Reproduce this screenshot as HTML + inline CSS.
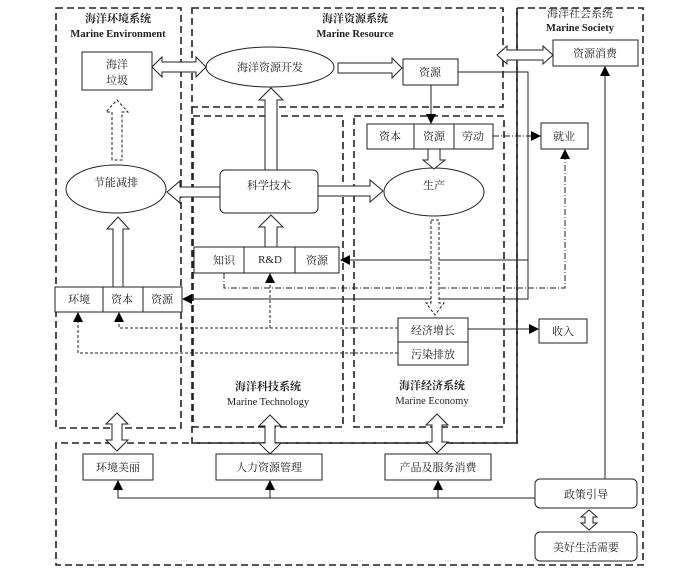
<!DOCTYPE html>
<html><head><meta charset="utf-8"><style>
html,body{margin:0;padding:0;background:#fff;}
svg{display:block;}
text{font-family:"Liberation Serif","Noto Serif CJK SC","Noto Sans CJK SC",serif;font-size:11px;fill:#222;text-anchor:middle;}
.b{font-weight:bold;}
</style></head><body>
<svg width="700" height="573" viewBox="0 0 700 573" xmlns="http://www.w3.org/2000/svg">
<defs>
<marker id="ah" markerWidth="10" markerHeight="10" refX="9" refY="5" orient="auto" markerUnits="userSpaceOnUse"><path d="M0,0 L10,5 L0,10 Z" fill="#000"/></marker>
</defs>
<g fill="none" stroke="#222" stroke-width="1.6" stroke-dasharray="7,4">
<rect x="56" y="8" width="125" height="420"/>
<rect x="192" y="8" width="311" height="99"/>
<rect x="193" y="116" width="150" height="311"/>
<rect x="354" y="116" width="150" height="311"/>
<path d="M517,8 L643,8 L643,565 L56,565 L56,443 L517,443 Z"/>
<path d="M192,107 L192,443 L517,443 L517,8"/>
</g>
<text x="118" y="22" class="b">海洋环境系统</text>
<text x="118" y="37" class="b" style="font-size:10.5px">Marine Environment</text>
<text x="355" y="22" class="b">海洋资源系统</text>
<text x="355" y="37" class="b" style="font-size:10.5px">Marine Resource</text>
<text x="580" y="17">海洋社会系统</text>
<text x="580" y="31" class="b" style="font-size:10.5px">Marine Society</text>
<text x="268" y="390" class="b">海洋科技系统</text>
<text x="268" y="405" style="font-size:10.5px">Marine Technology</text>
<text x="432" y="389" class="b">海洋经济系统</text>
<text x="432" y="404" style="font-size:10.5px">Marine Economy</text>

<g fill="#fff" stroke="#222" stroke-width="1">
<rect x="82" y="52" width="70" height="38"/>
<ellipse cx="270" cy="67" rx="64" ry="20"/>
<rect x="403" y="59" width="55" height="26"/>
<rect x="553" y="40" width="85" height="26"/>
<rect x="367" y="124" width="126" height="25"/>
<rect x="541" y="123" width="47" height="26"/>
<ellipse cx="434" cy="192" rx="50" ry="24"/>
<ellipse cx="116" cy="189" rx="50" ry="24"/>
<rect x="220" y="170" width="98" height="43" rx="5"/>
<rect x="194" y="247" width="145" height="26"/>
<rect x="55" y="287" width="127" height="25"/>
<rect x="398" y="318" width="70" height="24"/>
<rect x="398" y="342" width="70" height="23"/>
<rect x="539" y="319" width="48" height="24"/>
<rect x="83" y="454" width="70" height="26"/>
<rect x="216" y="454" width="106" height="26"/>
<rect x="385" y="454" width="106" height="26"/>
<rect x="535" y="479" width="102" height="29" rx="5"/>
<rect x="535" y="532" width="102" height="29" rx="5"/>
</g>
<g stroke="#222" stroke-width="1">
<line x1="414" y1="124" x2="414" y2="149"/><line x1="454" y1="124" x2="454" y2="149"/>
<line x1="244" y1="247" x2="244" y2="273"/><line x1="295" y1="247" x2="295" y2="273"/>
<line x1="103" y1="287" x2="103" y2="312"/><line x1="143" y1="287" x2="143" y2="312"/>
</g>
<text x="117" y="68">海洋</text><text x="117" y="84">垃圾</text>
<text x="270" y="71">海洋资源开发</text>
<text x="430" y="76">资源</text>
<text x="595" y="57">资源消费</text>
<text x="390" y="140">资本</text><text x="434" y="140">资源</text><text x="473" y="140">劳动</text>
<text x="564" y="140">就业</text>
<text x="434" y="189">生产</text>
<text x="116" y="186">节能减排</text>
<text x="269" y="189">科学技术</text>
<text x="224" y="264">知识</text><text x="270" y="263">R&amp;D</text><text x="317" y="264">资源</text>
<text x="79" y="303">环境</text><text x="122" y="303">资本</text><text x="162" y="303">资源</text>
<text x="433" y="334">经济增长</text><text x="433" y="358">污染排放</text>
<text x="563" y="335">收入</text>
<text x="118" y="471">环境美丽</text><text x="269" y="471">人力资源管理</text><text x="438" y="471">产品及服务消费</text>
<text x="586" y="498">政策引导</text><text x="586" y="551">美好生活需要</text>

<g fill="none" stroke="#222" stroke-width="1">
<polyline points="458,72 528,72 528,299 183,299" marker-end="url(#ah)"/>
<line x1="528" y1="260" x2="341" y2="260" marker-end="url(#ah)"/>
<line x1="431" y1="85" x2="431" y2="123" marker-end="url(#ah)"/>
<line x1="468" y1="329" x2="538" y2="329" marker-end="url(#ah)"/>
<line x1="605" y1="479" x2="605" y2="67" marker-end="url(#ah)"/>
<polyline points="535,498 118,498 118,481" marker-end="url(#ah)"/>
<line x1="270" y1="498" x2="270" y2="481" marker-end="url(#ah)"/>
<line x1="438" y1="498" x2="438" y2="481" marker-end="url(#ah)"/>
</g>
<g fill="none" stroke="#222" stroke-width="1" stroke-dasharray="6,2,1,2">
<line x1="493" y1="136" x2="540" y2="136" marker-end="url(#ah)"/>
<polyline points="224,273 224,288 565,288 565,150" marker-end="url(#ah)"/>
</g>
<g fill="none" stroke="#222" stroke-width="1" stroke-dasharray="3,2">
<polyline points="398,328 119,328 119,313" marker-end="url(#ah)"/>
<line x1="270" y1="328" x2="270" y2="274" marker-end="url(#ah)"/>
<polyline points="398,353 78,353 78,313" marker-end="url(#ah)"/>
</g>
<g fill="#fff" stroke="#222" stroke-width="1">
<polygon points="152,67 162,57 162,62 196,62 196,57 206,67 196,77 196,72 162,72 162,77"/>
<polygon points="338,63 392,63 392,58 402,68 392,78 392,73 338,73"/>
<polygon points="497,55 507,46 507,50 543,50 543,46 553,55 543,64 543,60 507,60 507,64"/>
<polygon points="428,149 440,149 440,160 445,160 434,169 423,160 428,160"/>
<polygon points="265,170 265,100 259,100 271,88 283,100 277,100 277,170"/>
<polygon points="220,187 180,187 180,181 167,192 180,203 180,197 220,197"/>
<polygon points="318,186 370,186 370,180 383,191 370,202 370,196 318,196"/>
<polygon points="112,160 112,112 106,112 117,100 128,112 122,112 122,160" stroke-dasharray="3,2"/>
<polygon points="113,287 113,229 107,229 118,217 129,229 123,229 123,287"/>
<polygon points="265,247 265,227 259,227 271,215 283,227 277,227 277,247"/>
<polygon points="431,220 439,220 439,303 444,303 435,315 426,303 431,303" stroke-dasharray="3,2"/>
<polygon points="117,413 128,424 122,424 122,440 128,440 117,451 106,440 112,440 112,424 106,424"/>
<polygon points="270,415 281,426 275,426 275,443 281,443 270,454 259,443 265,443 265,426 259,426"/>
<polygon points="437,414 448,425 442,425 442,442 448,442 437,453 426,442 432,442 432,425 426,425"/>
<polygon points="589,510 597,517 593,517 593,523 597,523 589,530 581,523 585,523 585,517 581,517"/>
</g>
</svg>
</body></html>
